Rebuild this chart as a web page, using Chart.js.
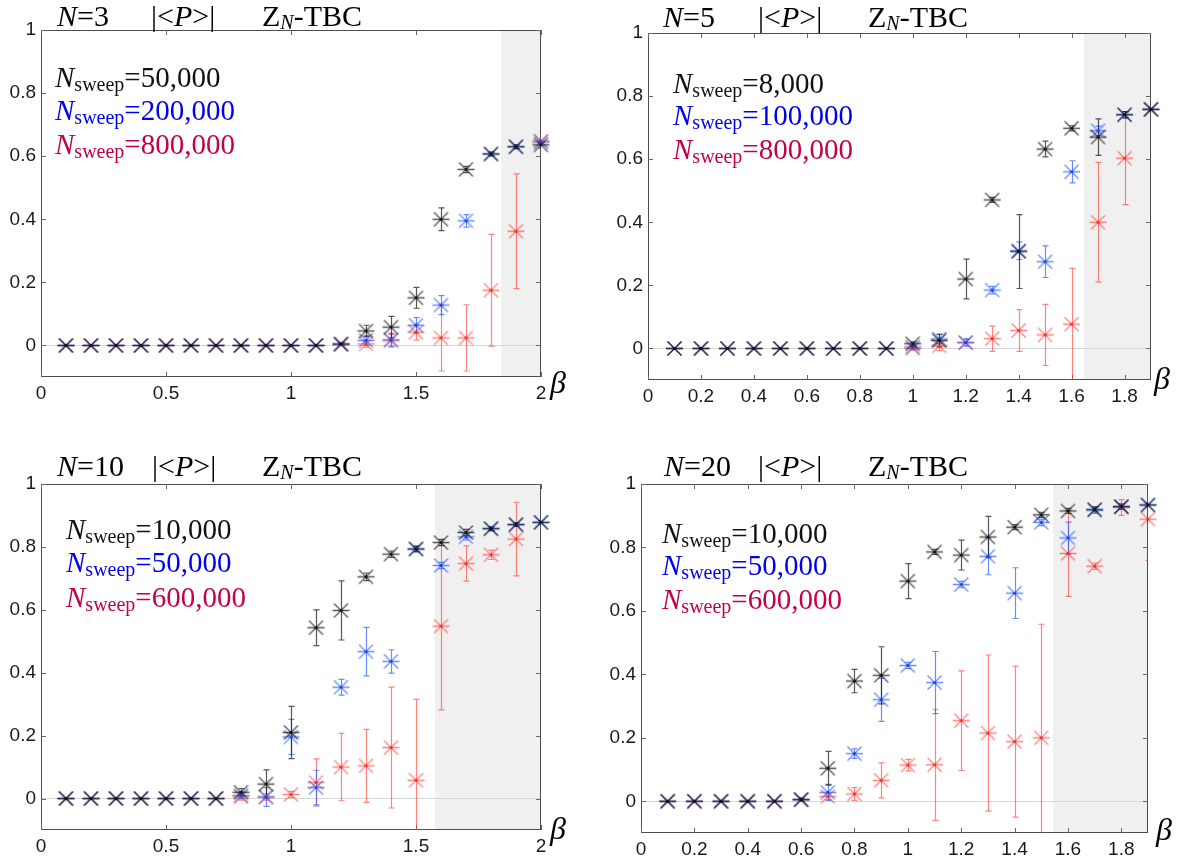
<!DOCTYPE html>
<html>
<head>
<meta charset="utf-8">
<script src="https://cdn.jsdelivr.net/npm/chart.js@4"></script>
<style>
body { margin: 0; background: #fff; }
#wrap { position: relative; width: 1181px; height: 861px; overflow: hidden; }
canvas { position: absolute; }
.t { position: absolute; font-family: "Liberation Serif", serif; font-size: 29px; line-height: 29px; white-space: nowrap; color: #000; }
.h { font-size: 30px; line-height: 30px; }
.sub { font-size: 20px; position: relative; top: 4px; }
.zn { font-size: 20px; font-style: italic; position: relative; top: 3px; }
.beta { font-size: 32px; font-style: italic; line-height: 32px; }
.blk { color: #111; }
.blu { color: #0000f0; }
.crm { color: #c3004a; }
</style>
</head>
<body>
<div id="wrap">
  <canvas id="c1" width="590" height="430" style="left:0;top:0"></canvas>
  <canvas id="c2" width="591" height="430" style="left:590px;top:0"></canvas>
  <canvas id="c3" width="590" height="421" style="left:0;top:440px"></canvas>
  <canvas id="c4" width="591" height="421" style="left:590px;top:440px"></canvas>

  <!-- panel titles -->
  <div class="t h" style="left:57px;top:1px"><i>N</i>=3</div>
  <div class="t h" style="left:151px;top:1px">|&lt;<i>P</i>&gt;|</div>
  <div class="t h" style="left:262px;top:1px">Z<span class="zn">N</span>-TBC</div>

  <div class="t h" style="left:663px;top:2px"><i>N</i>=5</div>
  <div class="t h" style="left:758px;top:2px">|&lt;<i>P</i>&gt;|</div>
  <div class="t h" style="left:868px;top:2px">Z<span class="zn">N</span>-TBC</div>

  <div class="t h" style="left:57px;top:451px"><i>N</i>=10</div>
  <div class="t h" style="left:152px;top:451px">|&lt;<i>P</i>&gt;|</div>
  <div class="t h" style="left:262px;top:451px">Z<span class="zn">N</span>-TBC</div>

  <div class="t h" style="left:664px;top:451px"><i>N</i>=20</div>
  <div class="t h" style="left:758px;top:451px">|&lt;<i>P</i>&gt;|</div>
  <div class="t h" style="left:868px;top:451px">Z<span class="zn">N</span>-TBC</div>

  <!-- sweep labels -->
  <div class="t blk" style="left:55px;top:63px"><i>N</i><span class="sub">sweep</span>=50,000</div>
  <div class="t blu" style="left:55px;top:96px"><i>N</i><span class="sub">sweep</span>=200,000</div>
  <div class="t crm" style="left:55px;top:130px"><i>N</i><span class="sub">sweep</span>=800,000</div>

  <div class="t blk" style="left:673px;top:69px"><i>N</i><span class="sub">sweep</span>=8,000</div>
  <div class="t blu" style="left:673px;top:101px"><i>N</i><span class="sub">sweep</span>=100,000</div>
  <div class="t crm" style="left:673px;top:135px"><i>N</i><span class="sub">sweep</span>=800,000</div>

  <div class="t blk" style="left:66px;top:515px"><i>N</i><span class="sub">sweep</span>=10,000</div>
  <div class="t blu" style="left:66px;top:548px"><i>N</i><span class="sub">sweep</span>=50,000</div>
  <div class="t crm" style="left:66px;top:583px"><i>N</i><span class="sub">sweep</span>=600,000</div>

  <div class="t blk" style="left:662px;top:519px"><i>N</i><span class="sub">sweep</span>=10,000</div>
  <div class="t blu" style="left:662px;top:551px"><i>N</i><span class="sub">sweep</span>=50,000</div>
  <div class="t crm" style="left:662px;top:585px"><i>N</i><span class="sub">sweep</span>=600,000</div>

  <!-- beta axis labels -->
  <div class="t beta" style="left:550px;top:366px">β</div>
  <div class="t beta" style="left:1154px;top:362px">β</div>
  <div class="t beta" style="left:550px;top:812px">β</div>
  <div class="t beta" style="left:1156px;top:813px">β</div>
</div>

<script>
// ---- data ----
const beta3 = [0.1, 0.2, 0.3, 0.4, 0.5, 0.6, 0.7, 0.8, 0.9, 1.0, 1.1, 1.2, 1.3, 1.4, 1.5, 1.6, 1.7, 1.8, 1.9, 2.0];
const n3Black    = [0, 0, 0, 0, 0, 0, 0, 0, 0, 0, 0, 0.005, 0.046, 0.058, 0.151, 0.40, 0.558, 0.607, 0.630, 0.636];
const n3BlackErr = [0, 0, 0, 0, 0, 0, 0, 0, 0, 0, 0, 0.004, 0.018, 0.034, 0.033, 0.036, 0.010, 0.006, 0.006, 0.010];
const n3Blue     = [0, 0, 0, 0, 0, 0, 0, 0, 0, 0, 0, 0.004, 0.016, 0.018, 0.064, 0.128, 0.395, 0.607, 0.630, 0.645];
const n3BlueErr  = [0, 0, 0, 0, 0, 0, 0, 0, 0, 0, 0, 0.004, 0.015, 0.020, 0.024, 0.030, 0.020, 0.006, 0.006, 0.006];
const n3Red      = [0, 0, 0, 0, 0, 0, 0, 0, 0, 0, 0, 0.003, 0.005, 0.015, 0.042, 0.024, 0.024, 0.175, 0.362, 0.648];
const n3RedErr   = [0, 0, 0, 0, 0, 0, 0, 0, 0, 0, 0, 0.004, 0.010, 0.020, 0.025, 0.105, 0.105, 0.177, 0.182, 0.006];

const beta5 = [0.1, 0.2, 0.3, 0.4, 0.5, 0.6, 0.7, 0.8, 0.9, 1.0, 1.1, 1.2, 1.3, 1.4, 1.5, 1.6, 1.7, 1.8, 1.9];
const n5Black    = [0, 0, 0, 0, 0, 0, 0, 0, 0, 0.015, 0.025, 0.220, 0.471, 0.307, 0.632, 0.698, 0.670, 0.741, 0.758];
const n5BlackErr = [0, 0, 0, 0, 0, 0, 0, 0, 0, 0.006, 0.020, 0.063, 0.008, 0.117, 0.025, 0.008, 0.058, 0.010, 0.006];
const n5Blue     = [0, 0, 0, 0, 0, 0, 0, 0, 0, 0.005, 0.030, 0.019, 0.185, 0.310, 0.275, 0.560, 0.690, 0.741, 0.758];
const n5BlueErr  = [0, 0, 0, 0, 0, 0, 0, 0, 0, 0.005, 0.015, 0.012, 0.012, 0.028, 0.050, 0.035, 0.015, 0.010, 0.006];
const n5Red      = [0, 0, 0, 0, 0, 0, 0, 0, 0, 0.000, 0.008, 0.018, 0.031, 0.057, 0.043, 0.077, 0.400, 0.603, 0.758];
const n5RedErr   = [0, 0, 0, 0, 0, 0, 0, 0, 0, 0.005, 0.015, 0.010, 0.040, 0.066, 0.097, 0.177, 0.190, 0.147, 0.006];

const beta10 = [0.1, 0.2, 0.3, 0.4, 0.5, 0.6, 0.7, 0.8, 0.9, 1.0, 1.1, 1.2, 1.3, 1.4, 1.5, 1.6, 1.7, 1.8, 1.9, 2.0];
const n10Black    = [0, 0, 0, 0, 0, 0, 0, 0.020, 0.046, 0.210, 0.543, 0.598, 0.705, 0.777, 0.793, 0.814, 0.846, 0.858, 0.871, 0.878];
const n10BlackErr = [0, 0, 0, 0, 0, 0, 0, 0.012, 0.045, 0.083, 0.057, 0.094, 0.012, 0.010, 0.008, 0.010, 0.010, 0.006, 0.006, 0.006];
const n10Blue     = [0, 0, 0, 0, 0, 0, 0, 0.010, 0.005, 0.196, 0.035, 0.354, 0.467, 0.436, 0.794, 0.741, 0.832, 0.858, 0.871, 0.878];
const n10BlueErr  = [0, 0, 0, 0, 0, 0, 0, 0.010, 0.030, 0.056, 0.055, 0.025, 0.077, 0.037, 0.010, 0.010, 0.010, 0.006, 0.006, 0.006];
const n10Red      = [0, 0, 0, 0, 0, 0, 0, 0.005, 0.005, 0.013, 0.051, 0.100, 0.104, 0.162, 0.058, 0.548, 0.747, 0.775, 0.825, null];
const n10RedErr   = [0, 0, 0, 0, 0, 0, 0, 0.010, 0.010, 0.010, 0.075, 0.107, 0.116, 0.192, 0.257, 0.266, 0.056, 0.015, 0.117, null];

const beta20 = [0.1, 0.2, 0.3, 0.4, 0.5, 0.6, 0.7, 0.8, 0.9, 1.0, 1.1, 1.2, 1.3, 1.4, 1.5, 1.6, 1.7, 1.8, 1.9];
const n20Black    = [0, 0, 0, 0, 0, 0.005, 0.104, 0.379, 0.397, 0.694, 0.786, 0.776, 0.833, 0.864, 0.903, 0.915, 0.920, 0.929, 0.934];
const n20BlackErr = [0, 0, 0, 0, 0, 0.005, 0.053, 0.037, 0.090, 0.055, 0.008, 0.047, 0.065, 0.008, 0.008, 0.008, 0.008, 0.008, 0.006];
const n20Blue     = [0, 0, 0, 0, 0, 0.005, 0.028, 0.150, 0.320, 0.428, 0.374, 0.683, 0.772, 0.656, 0.879, 0.830, 0.917, 0.929, 0.934];
const n20BlueErr  = [0, 0, 0, 0, 0, 0.005, 0.025, 0.015, 0.068, 0.010, 0.098, 0.010, 0.058, 0.080, 0.010, 0.050, 0.010, 0.008, 0.006];
const n20Red      = [0, 0, 0, 0, 0, 0.005, 0.015, 0.023, 0.066, 0.114, 0.115, 0.254, 0.215, 0.188, 0.200, 0.781, 0.741, 0.926, 0.889];
const n20RedErr   = [0, 0, 0, 0, 0, 0.005, 0.010, 0.020, 0.055, 0.018, 0.175, 0.157, 0.246, 0.238, 0.358, 0.135, 0.010, 0.025, 0.130];

const yTicks = [0, 0.2, 0.4, 0.6, 0.8, 1];
const xTicksWide = [0, 0.5, 1, 1.5, 2];
const xTicksFine = [0, 0.2, 0.4, 0.6, 0.8, 1, 1.2, 1.4, 1.6, 1.8];

// ---- styling ----
const colBlack = 'rgba(20,20,20,0.72)';
const colBlue = 'rgba(45,95,255,0.72)';
const colRed = 'rgba(255,55,45,0.62)';

function makeMarker(color, dot) {
    const c = document.createElement('canvas');
    c.width = 19; c.height = 19;
    const g = c.getContext('2d');
    g.strokeStyle = color;
    g.lineWidth = 1.3;
    g.beginPath();
    g.moveTo(1, 9.5); g.lineTo(18, 9.5);
    g.moveTo(2.5, 2.5); g.lineTo(16.5, 16.5);
    g.moveTo(2.5, 16.5); g.lineTo(16.5, 2.5);
    g.stroke();
    g.fillStyle = dot;
    g.fillRect(8.2, 8.2, 2.6, 2.6);
    return c;
}
const mkBlack = makeMarker(colBlack, '#111');
const mkBlue = makeMarker(colBlue, '#1a3fd8');
const mkRed = makeMarker(colRed, '#e8302a');

// shaded region, frame and inward ticks
const framePlugin = {
    id: 'frame',
    beforeDraw(chart, args, opts) {
        const { ctx, chartArea: a, scales: { x } } = chart;
        const xs = Math.round(x.getPixelForValue(opts.shadeFrom));
        ctx.save();
        ctx.fillStyle = '#f0f0f0';
        ctx.fillRect(xs, a.top, a.right - xs, a.bottom - a.top);
        ctx.restore();
    },
    beforeDatasetsDraw(chart, args, opts) {
        const { ctx, chartArea: a, scales: { x, y } } = chart;
        ctx.save();
        ctx.strokeStyle = '#4d4d4d';
        ctx.lineWidth = 1;
        ctx.strokeRect(a.left + 0.5, a.top + 0.5, a.right - a.left - 1, a.bottom - a.top - 1);
        ctx.strokeStyle = '#666';
        ctx.beginPath();
        y.ticks.forEach(t => {
            const py = Math.round(y.getPixelForValue(t.value)) + 0.5;
            ctx.moveTo(a.left, py); ctx.lineTo(a.left + 5, py);
            ctx.moveTo(a.right, py); ctx.lineTo(a.right - 5, py);
        });
        x.ticks.forEach(t => {
            const px = Math.round(x.getPixelForValue(t.value)) + 0.5;
            ctx.moveTo(px, a.bottom); ctx.lineTo(px, a.bottom - 5);
            ctx.moveTo(px, a.top); ctx.lineTo(px, a.top + 5);
        });
        ctx.stroke();
        ctx.restore();
    }
};

// vertical error bars with small caps
const errorBarPlugin = {
    id: 'errorBars',
    beforeDatasetsDraw(chart) {
        const { ctx, chartArea: a, scales: { x, y } } = chart;
        ctx.save();
        ctx.beginPath();
        ctx.rect(a.left, a.top, a.right - a.left, a.bottom - a.top);
        ctx.clip();
        chart.data.datasets.slice().reverse().forEach(ds => {
            ctx.strokeStyle = ds.borderColor;
            ctx.lineWidth = 1.2;
            ds.data.forEach((p, i) => {
                const e = ds.errors[i];
                if (p.y == null || !e) return;
                const px = Math.round(x.getPixelForValue(p.x)) + 0.5;
                const y1 = y.getPixelForValue(p.y - e);
                const y2 = y.getPixelForValue(p.y + e);
                ctx.beginPath();
                ctx.moveTo(px, y1); ctx.lineTo(px, y2);
                ctx.moveTo(px - 3, y1); ctx.lineTo(px + 3, y1);
                ctx.moveTo(px - 3, y2); ctx.lineTo(px + 3, y2);
                ctx.stroke();
            });
        });
        ctx.restore();
    }
};

function series(beta, vals, errs, color, marker) {
    return {
        data: beta.map((b, i) => ({ x: b, y: vals[i] })),
        errors: errs,
        borderColor: color,
        pointStyle: marker,
        showLine: false,
        clip: false
    };
}

function drawPanel(id, p) {
    const tickFont = { family: '"Liberation Sans", Arial, sans-serif', size: 19 };
    new Chart(document.getElementById(id), {
        type: 'scatter',
        data: {
            datasets: [
                series(p.beta, p.black, p.blackErr, colBlack, mkBlack),
                series(p.beta, p.blue, p.blueErr, colBlue, mkBlue),
                series(p.beta, p.red, p.redErr, colRed, mkRed)
            ]
        },
        options: {
            responsive: false,
            animation: false,
            events: [],
            layout: { padding: { left: 0, top: p.padTop, right: p.padRight, bottom: 0 } },
            plugins: {
                legend: { display: false },
                tooltip: { enabled: false },
                frame: { shadeFrom: p.shadeFrom }
            },
            scales: {
                x: {
                    type: 'linear',
                    min: 0,
                    max: p.xMax,
                    afterBuildTicks: s => { s.ticks = p.xTicks.map(v => ({ value: v })); },
                    afterFit: s => { s.height = p.xH; },
                    grid: { display: false },
                    border: { display: false },
                    ticks: {
                        font: tickFont, color: '#1a1a1a', padding: -3,
                        autoSkip: false, maxRotation: 0,
                        callback: v => String(+v.toFixed(2))
                    }
                },
                y: {
                    min: -0.1,
                    max: 1,
                    afterBuildTicks: s => { s.ticks = yTicks.map(v => ({ value: v })); },
                    afterFit: s => { s.width = p.yW; },
                    grid: {
                        drawTicks: false,
                        color: c => (c.tick && c.tick.value === 0 ? '#d6d6d6' : 'rgba(0,0,0,0)')
                    },
                    border: { display: false },
                    ticks: {
                        font: tickFont, color: '#1a1a1a', padding: 5,
                        callback: v => String(+v.toFixed(2))
                    }
                }
            }
        },
        plugins: [framePlugin, errorBarPlugin]
    });
}

drawPanel('c1', {
    beta: beta3, black: n3Black, blackErr: n3BlackErr, blue: n3Blue, blueErr: n3BlueErr, red: n3Red, redErr: n3RedErr,
    xMax: 2, xTicks: xTicksWide, shadeFrom: 1.84, padTop: 30, padRight: 49, yW: 41, xH: 53
});
drawPanel('c2', {
    beta: beta5, black: n5Black, blackErr: n5BlackErr, blue: n5Blue, blueErr: n5BlueErr, red: n5Red, redErr: n5RedErr,
    xMax: 1.9, xTicks: xTicksFine, shadeFrom: 1.647, padTop: 33, padRight: 30, yW: 58, xH: 50
});
drawPanel('c3', {
    beta: beta10, black: n10Black, blackErr: n10BlackErr, blue: n10Blue, blueErr: n10BlueErr, red: n10Red, redErr: n10RedErr,
    xMax: 2, xTicks: xTicksWide, shadeFrom: 1.576, padTop: 44, padRight: 49, yW: 41, xH: 31
});
drawPanel('c4', {
    beta: beta20, black: n20Black, blackErr: n20BlackErr, blue: n20Blue, blueErr: n20BlueErr, red: n20Red, redErr: n20RedErr,
    xMax: 1.9, xTicks: xTicksFine, shadeFrom: 1.543, padTop: 44, padRight: 33, yW: 51, xH: 28
});
</script>
</body>
</html>
